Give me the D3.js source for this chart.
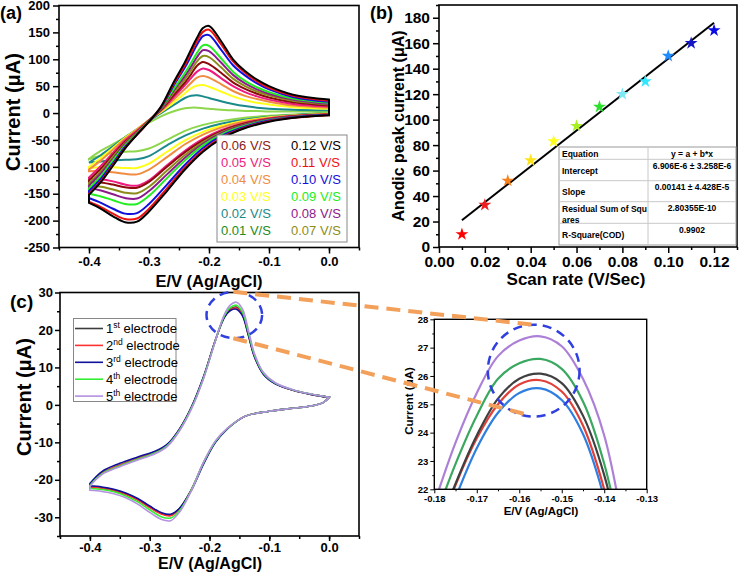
<!DOCTYPE html>
<html>
<head>
<meta charset="utf-8">
<title>CV scan rate / reproducibility</title>
<style>
  body { margin: 0; background: #fff; }
  svg { display: block; font-family: "Liberation Sans", Arial, sans-serif; }
  .title { font-weight: bold; fill: #000; }
</style>
<script src="https://cdn.jsdelivr.net/npm/d3@7"></script>
</head>
<body>
<script>
// ---------- data (a): CV at different scan rates ----------
var rates = [0.01, 0.02, 0.03, 0.04, 0.05, 0.06, 0.07, 0.08, 0.09, 0.10, 0.11, 0.12];
var rateLabels = ['0.01 V/S', '0.02 V/S', '0.03 V/S', '0.04 V/S', '0.05 V/S', '0.06 V/S',
                  '0.07 V/S', '0.08 V/S', '0.09 V/S', '0.10 V/S', '0.11 V/S', '0.12 V/S'];
var rateLine = ['#8ed64c', '#1a8a8a', '#ffff1a', '#f08c40', '#ee1a80', '#8b0a0a',
                '#8c8c1a', '#8b1a8b', '#22ee22', '#1010dd', '#ee1111', '#000000'];
var rateText = ['#228b22', '#1a8a8a', '#ffff1a', '#f08c40', '#ee1a80', '#8b1a1a',
                '#8c8c1a', '#8b1a8b', '#22ee22', '#1010dd', '#ee1111', '#000000'];

// forward (anodic) sweep, -0.4 -> 0 V
var upE = [-0.40, -0.38, -0.36, -0.34, -0.32, -0.30, -0.28, -0.26, -0.24, -0.23,
           -0.22, -0.21, -0.20, -0.18, -0.16, -0.14, -0.12, -0.10, -0.06, 0.00];
var upI = [
  [-85, -70, -58, -45, -32, -18, -6, 3, 9, 10, 10, 9, 8, 6, 5, 4, 4, 3, 3, 3],
  [-92, -78, -62, -45, -30, -14, 0, 14, 28, 32, 33, 31, 28, 22, 17, 13, 10, 8, 6, 5],
  [-100, -83, -65, -46, -30, -13, 2, 19, 37, 46, 51, 52, 49, 40, 31, 24, 19, 16, 11, 8],
  [-105, -88, -68, -48, -31, -13, 4, 24, 45, 56, 66, 69, 66, 54, 41, 32, 26, 21, 14, 10],
  [-120, -98, -74, -51, -33, -13, 5, 28, 52, 65, 77, 83, 80, 65, 50, 39, 31, 25, 17, 12],
  [-125, -103, -78, -54, -35, -14, 6, 32, 57, 72, 88, 95, 91, 75, 57, 45, 36, 29, 20, 14],
  [-130, -108, -81, -56, -36, -14, 7, 36, 63, 79, 96, 106, 104, 85, 64, 50, 40, 33, 23, 16],
  [-135, -112, -85, -58, -37, -15, 8, 40, 69, 86, 104, 117, 115, 94, 71, 55, 44, 36, 25, 17],
  [-140, -117, -88, -60, -38, -15, 9, 43, 75, 93, 112, 126, 125, 102, 77, 60, 48, 39, 27, 19],
  [-145, -122, -93, -63, -40, -16, 10, 49, 85, 106, 127, 143, 145, 118, 89, 70, 55, 44, 30, 21],
  [-150, -126, -96, -65, -40, -16, 11, 52, 90, 112, 134, 151, 155, 128, 96, 75, 59, 47, 32, 23],
  [-152, -128, -98, -66, -40, -16, 12, 55, 95, 118, 140, 158, 162, 134, 100, 78, 62, 50, 34, 25]
];
// reverse (cathodic) sweep, 0 -> -0.4 V
var dnE = [0.00, -0.05, -0.10, -0.15, -0.18, -0.21, -0.24, -0.27, -0.30, -0.32, -0.34, -0.36, -0.38, -0.40];
var dnI = [
  [0, -2, -5, -10, -15, -22, -33, -50, -66, -71, -72, -74, -79, -86],
  [-1, -3, -7, -14, -20, -29, -42, -60, -80, -86, -87, -88, -90, -92],
  [-1, -4, -8, -16, -24, -35, -51, -72, -94, -102, -102, -101, -101, -102],
  [-2, -4, -9, -18, -27, -40, -58, -82, -105, -114, -113, -110, -108, -108],
  [-2, -5, -10, -21, -32, -48, -70, -97, -125, -135, -133, -127, -123, -122],
  [-2, -5, -11, -22, -34, -51, -73, -100, -128, -139, -138, -133, -129, -128],
  [-3, -6, -12, -24, -36, -54, -78, -107, -137, -149, -148, -142, -137, -135],
  [-3, -6, -12, -25, -38, -57, -83, -114, -145, -159, -158, -151, -144, -140],
  [-3, -7, -13, -27, -40, -60, -88, -121, -154, -169, -169, -162, -155, -150],
  [-3, -7, -14, -29, -43, -65, -96, -133, -169, -186, -187, -178, -167, -158],
  [-4, -8, -15, -31, -46, -69, -101, -140, -178, -196, -197, -187, -175, -165],
  [-4, -8, -16, -32, -48, -72, -105, -145, -183, -202, -203, -192, -178, -167]
];

// ---------- data (b): anodic peak current vs scan rate ----------
var peakCurrent = [10, 33, 52, 68, 83, 95, 110, 120, 130, 150, 160, 170];
var starColors = ['#ff0000', '#ee1c1c', '#f7801c', '#ffe31a', '#ffff1a', '#a8f020',
                  '#2ee02e', '#7fe8f5', '#33e6ff', '#1e8cff', '#1414c8', '#0a0ae6'];
var fitIntercept = 6.906;   // µA
var fitSlope = 1410;        // µA per V/s
var tableRows = [
  ['Equation', 'y = a + b*x'],
  ['Intercept', '6.906E-6 ± 3.258E-6'],
  ['Slope', '0.00141 ± 4.428E-5'],
  ['Residual Sum of Squ|ares', '2.80355E-10'],
  ['R-Square(COD)', '0.9902']
];

// ---------- data (c): five electrodes ----------
var electrodes = ['1', '2', '3', '4', '5'];
var electrodeSup = ['st', 'nd', 'rd', 'th', 'th'];
var elColors = ['#3c3c3c', '#ff3030', '#10109a', '#33ee33', '#b390e0'];
var cUpE = [-0.40, -0.38, -0.35, -0.32, -0.29, -0.27, -0.25, -0.23, -0.21, -0.19, -0.175,
            -0.165, -0.155, -0.145, -0.135, -0.125, -0.11, -0.09, -0.06, -0.03, 0.00];
var cUpI = [
  [-21.3, -18.2, -16.1, -14.3, -12.6, -10.6, -6.5, -0.6, 7.4, 17.3, 23.6, 25.6, 26.1, 24.3, 18.9, 13.1, 8.3, 5.7, 3.9, 2.8, 2.0],
  [-21.3, -18.2, -16.1, -14.3, -12.6, -10.6, -6.5, -0.6, 7.4, 17.3, 23.5, 25.4, 25.85, 24.0, 18.7, 13.0, 8.3, 5.7, 3.9, 2.8, 2.0],
  [-21.0, -17.8, -15.6, -13.9, -12.3, -10.4, -6.4, -0.5, 7.5, 17.3, 23.4, 25.2, 25.55, 23.8, 18.6, 12.9, 8.2, 5.6, 3.9, 2.8, 2.0],
  [-21.5, -18.4, -16.3, -14.5, -12.8, -10.8, -6.7, -0.8, 7.2, 17.2, 23.8, 26.0, 26.6, 24.8, 19.3, 13.4, 8.5, 5.8, 4.0, 2.9, 2.0],
  [-21.7, -18.6, -16.5, -14.7, -13.0, -11.0, -6.9, -1.0, 7.0, 17.2, 24.2, 26.7, 27.4, 25.6, 20.0, 13.8, 8.7, 5.9, 4.0, 2.9, 2.0]
];
var cDnE = [0.00, -0.01, -0.03, -0.06, -0.10, -0.14, -0.17, -0.19, -0.21, -0.23, -0.25,
            -0.265, -0.28, -0.30, -0.32, -0.34, -0.36, -0.38, -0.40];
var cDnI = [
  [2.0, 0.6, -0.3, -0.9, -1.7, -3.0, -6.3, -9.8, -15.5, -22.5, -27.6, -29.4, -29.0, -27.2, -25.2, -23.7, -22.7, -22.1, -21.8],
  [2.0, 0.6, -0.3, -0.9, -1.7, -3.0, -6.3, -9.8, -15.5, -22.6, -27.8, -29.6, -29.2, -27.4, -25.4, -23.9, -22.9, -22.3, -22.0],
  [2.0, 0.6, -0.3, -0.9, -1.7, -3.0, -6.4, -10.0, -15.8, -22.7, -27.6, -29.2, -28.8, -27.0, -25.0, -23.5, -22.5, -21.9, -21.6],
  [2.0, 0.6, -0.3, -0.9, -1.7, -3.0, -6.3, -9.7, -15.4, -22.6, -28.2, -30.2, -29.9, -28.0, -25.9, -24.3, -23.2, -22.6, -22.3],
  [2.0, 0.6, -0.3, -0.9, -1.7, -3.0, -6.2, -9.6, -15.3, -22.8, -28.6, -30.9, -30.6, -28.7, -26.5, -24.8, -23.7, -23.1, -22.8]
];

// zoomed peak (inset)
var inE = [-0.18, -0.175, -0.17, -0.165, -0.16, -0.155, -0.15, -0.145, -0.14, -0.135];
var inI = [
  [20.2, 22.2, 23.9, 25.2, 25.9, 26.08, 25.75, 24.6, 22.5, 19.2],
  [20.1, 22.15, 23.8, 25.0, 25.7, 25.85, 25.45, 24.25, 22.0, 18.7],
  [19.7, 21.7, 23.45, 24.7, 25.4, 25.56, 25.15, 23.95, 21.7, 18.4],
  [20.9, 22.9, 24.6, 25.9, 26.45, 26.6, 26.25, 25.1, 22.9, 19.5],
  [21.5, 23.65, 25.4, 26.7, 27.25, 27.4, 27.05, 25.9, 23.9, 20.2]
];
var inColors = ['#404040', '#e0403a', '#2e7fe0', '#3aa860', '#ad80d8'];
// region highlighted on (c) and in the inset: centre E, centre I, half-widths
var zoomMark = { e: -0.1585, i: 24.0, de: 0.0465, di: 6.2 };
var zoomMarkIn = { e: -0.1566, i: 26.19, de: 0.0108, di: 1.62 };

// ---------- helpers ----------
var svg = d3.select('body').append('svg').attr('width', 740).attr('height', 572);
var FONT = '"Liberation Sans", Arial, sans-serif';

function drawAxes(g, x, y, o) {
  var x0 = x.range()[0], x1 = x.range()[1], y0 = y.range()[0], y1 = y.range()[1];
  g.append('g').attr('transform', 'translate(0,' + y0 + ')')
    .call(d3.axisBottom(x).tickValues(o.xMinor).tickSize(o.minor).tickFormat(''));
  g.append('g').attr('transform', 'translate(0,' + y0 + ')')
    .call(d3.axisBottom(x).tickValues(o.xTicks).tickSize(o.major).tickPadding(o.pad).tickFormat(o.xFmt));
  g.append('g').attr('transform', 'translate(' + x0 + ',0)')
    .call(d3.axisLeft(y).tickValues(o.yMinor).tickSize(o.minor).tickFormat(''));
  g.append('g').attr('transform', 'translate(' + x0 + ',0)')
    .call(d3.axisLeft(y).tickValues(o.yTicks).tickSize(o.major).tickPadding(o.pad).tickFormat(o.yFmt));
  g.selectAll('.domain').remove();
  g.selectAll('g').attr('font-family', FONT).attr('font-size', o.font);
  g.selectAll('.tick text').attr('font-weight', 'bold').attr('fill', '#000');
  g.selectAll('.tick line').attr('stroke-width', o.tw);
  g.append('rect').attr('x', x0).attr('y', y1).attr('width', x1 - x0).attr('height', y0 - y1)
    .attr('fill', 'none').attr('stroke', '#000').attr('stroke-width', o.fw);
}

var smooth = d3.line().curve(d3.curveCatmullRom.alpha(0.5));
function loopPath(x, y, eU, iU, eD, iD) {
  var a = smooth(eU.map(function (e, k) { return [x(e), y(iU[k])]; }));
  var b = smooth(eD.map(function (e, k) { return [x(e), y(iD[k])]; }));
  return a + 'L' + b.slice(1) + 'Z';
}

function title(sel, txt, px, xx, yy, rot) {
  return sel.append('text').attr('class', 'title').attr('font-size', px)
    .attr('text-anchor', 'middle')
    .attr('transform', 'translate(' + xx + ',' + yy + ')' + (rot ? ' rotate(-90)' : ''))
    .text(txt);
}

function fmt(d) { return function (v) { return v.toFixed(d); }; }
function steps(a, b, s) { return d3.range(Math.round((b - a) / s) + 1).map(function (k) { return +(a + k * s).toFixed(4); }); }

// ---------- panel (a) ----------
var xa = d3.scaleLinear().domain([-0.45, 0.05]).range([59, 359]);
var ya = d3.scaleLinear().domain([-250, 200]).range([247.5, 5.5]);
var ga = svg.append('g');
rates.forEach(function (r, k) {
  ga.append('path').attr('d', loopPath(xa, ya, upE, upI[k], dnE, dnI[k]))
    .attr('fill', 'none').attr('stroke', rateLine[k]).attr('stroke-width', 2);
});
drawAxes(ga, xa, ya, {
  xTicks: steps(-0.4, 0, 0.1), xMinor: steps(-0.45, 0.05, 0.05), xFmt: fmt(1),
  yTicks: steps(-250, 200, 50), yMinor: steps(-225, 175, 50), yFmt: fmt(0),
  major: 6, minor: 3, pad: 3, font: 13, tw: 1.5, fw: 1.6
});
var lega = ga.append('g');
lega.append('rect').attr('x', 217).attr('y', 135).attr('width', 130).attr('height', 107)
  .attr('fill', '#fff').attr('stroke', '#888').attr('stroke-width', 1);
[[5, 4, 3, 2, 1, 0], [11, 10, 9, 8, 7, 6]].forEach(function (col, c) {
  col.forEach(function (k, row) {
    lega.append('text').attr('x', c ? 291 : 221).attr('y', 150 + row * 17)
      .attr('font-size', 13).attr('fill', rateText[k]).text(rateLabels[k]);
  });
});
svg.append('text').attr('class', 'title').attr('font-size', 18).attr('x', 0).attr('y', 19).text('(a)');
title(svg, 'Current (μA)', 20, 20, 112, true);
title(svg, 'E/V (Ag/AgCl)', 16.5, 209, 287);

// ---------- panel (b) ----------
var xb = d3.scaleLinear().domain([0, 0.13]).range([439, 737]);
var yb = d3.scaleLinear().domain([0, 190]).range([247, 5]);
var gb = svg.append('g');
drawAxes(gb, xb, yb, {
  xTicks: steps(0, 0.12, 0.02), xMinor: steps(0.01, 0.13, 0.02), xFmt: fmt(2),
  yTicks: steps(0, 180, 20), yMinor: steps(10, 190, 20), yFmt: fmt(0),
  major: 6, minor: 3, pad: 3, font: 15.5, tw: 1.5, fw: 1.6
});
gb.append('line')
  .attr('x1', xb(rates[0])).attr('y1', yb(fitIntercept + fitSlope * rates[0]))
  .attr('x2', xb(rates[11])).attr('y2', yb(fitIntercept + fitSlope * rates[11]))
  .attr('stroke', '#000').attr('stroke-width', 2);
gb.selectAll('path.star').data(rates).enter().append('path').attr('class', 'star')
  .attr('d', d3.symbol(d3.symbolStar, 52))
  .attr('transform', function (d, k) { return 'translate(' + xb(d) + ',' + yb(peakCurrent[k]) + ')'; })
  .attr('fill', function (d, k) { return starColors[k]; });
// fit table
var tb = gb.append('g').attr('font-size', 8.5).attr('font-weight', 'bold');
var rowY = [147, 159.3, 180.7, 201.7, 223.3, 245];
tb.append('rect').attr('x', 559).attr('y', 147).attr('width', 177).attr('height', 98)
  .attr('fill', '#fff').attr('stroke', '#9a9a9a');
tb.append('line').attr('x1', 648).attr('x2', 648).attr('y1', 147).attr('y2', 245).attr('stroke', '#c8c8c8');
rowY.slice(1, 5).forEach(function (yy) {
  tb.append('line').attr('x1', 559).attr('x2', 736).attr('y1', yy).attr('y2', yy).attr('stroke', '#c8c8c8');
});
tableRows.forEach(function (r, k) {
  var top = rowY[k], h = rowY[k + 1] - top;
  var parts = r[0].split('|');
  parts.forEach(function (p, j) {
    tb.append('text').attr('x', 562)
      .attr('y', parts.length > 1 ? top + 10 + j * 11 : top + h / 2 + 3.5).text(p);
  });
  tb.append('text').attr('x', 692).attr('text-anchor', 'middle')
    .attr('y', k === 0 ? top + h / 2 + 3.5 : top + 9.5).text(r[1]);
});
svg.append('text').attr('class', 'title').attr('font-size', 18).attr('x', 370).attr('y', 19).text('(b)');
title(svg, 'Anodic peak current (μA)', 16, 404, 126, true);
title(svg, 'Scan rate (V/Sec)', 17, 576, 285);

// ---------- panel (c) ----------
var xc = d3.scaleLinear().domain([-0.45, 0.05]).range([60, 359]);
var yc = d3.scaleLinear().domain([-35, 30]).range([536, 292.5]);
var gc = svg.append('g');
electrodes.forEach(function (el, k) {
  gc.append('path').attr('d', loopPath(xc, yc, cUpE, cUpI[k], cDnE, cDnI[k]))
    .attr('fill', 'none').attr('stroke', elColors[k]).attr('stroke-width', 1.6);
});
drawAxes(gc, xc, yc, {
  xTicks: steps(-0.4, 0, 0.1), xMinor: steps(-0.45, 0.05, 0.05), xFmt: fmt(1),
  yTicks: steps(-30, 30, 10), yMinor: steps(-35, 25, 10), yFmt: fmt(0),
  major: 5, minor: 3, pad: 2, font: 13, tw: 1.5, fw: 1.6
});
var legc = gc.append('g');
legc.append('rect').attr('x', 73.5).attr('y', 318.5).attr('width', 102.5).attr('height', 83)
  .attr('fill', '#fff').attr('stroke', '#888');
electrodes.forEach(function (el, k) {
  var yy = 328.5 + k * 16.9;
  legc.append('line').attr('x1', 75).attr('x2', 103).attr('y1', yy).attr('y2', yy)
    .attr('stroke', elColors[k]).attr('stroke-width', 1.6);
  var t = legc.append('text').attr('x', 106).attr('y', yy + 4.5).attr('font-size', 13).text(el);
  t.append('tspan').attr('dy', -5).attr('font-size', 8.5).text(electrodeSup[k]);
  t.append('tspan').attr('dy', 5).text(' electrode');
});
svg.append('text').attr('class', 'title').attr('font-size', 19).attr('x', 10).attr('y', 308).text('(c)');
title(svg, 'Current (μA)', 20, 31, 397, true);
title(svg, 'E/V (Ag/AgCl)', 16, 210, 569);

// ---------- inset ----------
var xi = d3.scaleLinear().domain([-0.18, -0.13]).range([434.3, 646.7]);
var yi = d3.scaleLinear().domain([22, 28]).range([489.3, 319.3]);
var gi = svg.append('g');
gi.append('clipPath').attr('id', 'clipIn').append('rect')
  .attr('x', 434.3).attr('y', 319.3).attr('width', 212.4).attr('height', 170);
var inLine = d3.line().curve(d3.curveCatmullRom.alpha(0.5))
  .x(function (d) { return xi(d[0]); }).y(function (d) { return yi(d[1]); });
[2, 1, 0, 3, 4].forEach(function (k) {
  gi.append('path').attr('clip-path', 'url(#clipIn)')
    .attr('d', inLine(inE.map(function (e, j) { return [e, inI[k][j]]; })))
    .attr('fill', 'none').attr('stroke', inColors[k]).attr('stroke-width', 2.2);
});
drawAxes(gi, xi, yi, {
  xTicks: steps(-0.18, -0.13, 0.01), xMinor: steps(-0.175, -0.135, 0.01), xFmt: fmt(2),
  yTicks: steps(22, 28, 1), yMinor: steps(22.5, 27.5, 1), yFmt: fmt(0),
  major: 4, minor: 2, pad: 2, font: 9.5, tw: 1, fw: 1.4
});
title(svg, 'Current (μA)', 11.5, 413, 401, true);
title(svg, 'E/V (Ag/AgCl)', 11.5, 541, 515);

// ---------- zoom annotation ----------
var ann = svg.append('g');
var cx1 = xc(zoomMark.e), cy1 = yc(zoomMark.i);
var rx1 = xc(zoomMark.e + zoomMark.de) - cx1, ry1 = cy1 - yc(zoomMark.i + zoomMark.di);
var cx2 = xi(zoomMarkIn.e), cy2 = yi(zoomMarkIn.i);
var rx2 = xi(zoomMarkIn.e + zoomMarkIn.de) - cx2, ry2 = cy2 - yi(zoomMarkIn.i + zoomMarkIn.di);
[[cx1, cy1, rx1, ry1], [cx2, cy2, rx2, ry2]].forEach(function (c) {
  ann.append('ellipse').attr('cx', c[0]).attr('cy', c[1]).attr('rx', c[2]).attr('ry', c[3])
    .attr('fill', 'none').attr('stroke', '#2f3fe0').attr('stroke-width', 2.5)
    .attr('stroke-dasharray', '9,6');
});
[[cx1 - 1, cy1 - ry1, cx2 - 1, cy2 - ry2], [cx1 - 1, cy1 + ry1, cx2 - 7, cy2 + ry2 - 2]].forEach(function (l) {
  ann.append('line').attr('x1', l[0]).attr('y1', l[1]).attr('x2', l[2]).attr('y2', l[3])
    .attr('stroke', '#f2a05a').attr('stroke-width', 4).attr('stroke-dasharray', '14,8');
});
</script>
</body>
</html>
